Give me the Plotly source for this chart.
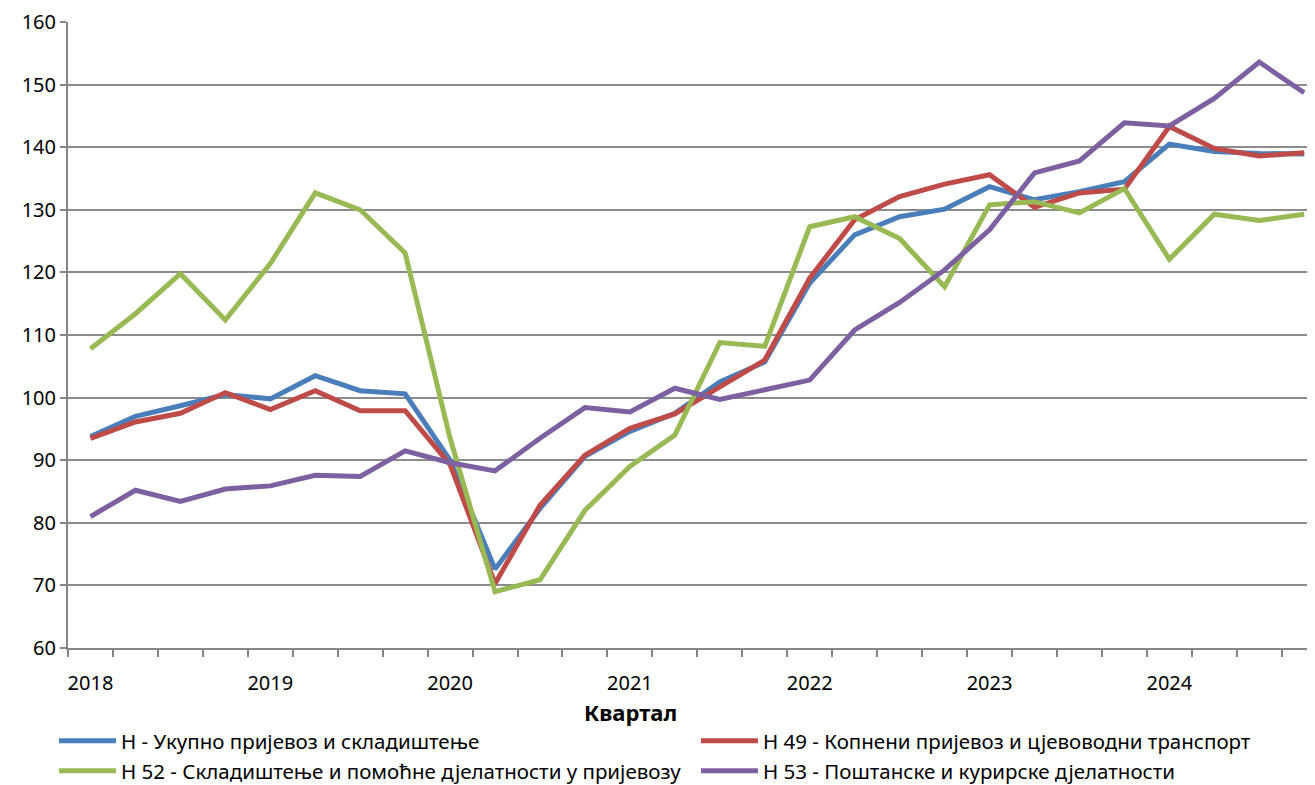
import plotly.graph_objects as go

quarters = [f"{y} Q{q}" for y in range(2018, 2025) for q in range(1, 5)]
year_labels = ["2018", "2019", "2020", "2021", "2022", "2023", "2024"]

h_total = [93.8, 97.0, 98.7, 100.5, 99.8, 103.5, 101.1, 100.6,
           90.0, 72.6, 82.3, 90.6, 94.6, 97.5, 102.5, 105.7,
           118.3, 126.0, 128.9, 130.1, 133.7, 131.6, 132.9, 134.5,
           140.5, 139.3, 139.0, 138.9]
h49 = [93.5, 96.1, 97.5, 100.8, 98.1, 101.1, 97.9, 97.9,
       89.3, 70.3, 82.8, 90.8, 95.1, 97.4, 101.7, 106.0,
       119.1, 128.4, 132.1, 134.1, 135.6, 130.4, 132.7, 133.3,
       143.3, 139.8, 138.6, 139.1]
h52 = [107.8, 113.4, 119.8, 112.4, 121.4, 132.7, 130.0, 123.1,
       93.5, 69.0, 70.9, 82.0, 89.0, 94.0, 108.8, 108.2,
       127.3, 128.9, 125.4, 117.7, 130.8, 131.3, 129.5, 133.4,
       122.1, 129.3, 128.3, 129.3]
h53 = [81.0, 85.2, 83.4, 85.4, 85.9, 87.6, 87.4, 91.5,
       89.6, 88.3, 93.5, 98.4, 97.7, 101.5, 99.7, 101.3,
       102.8, 110.8, 115.2, 120.4, 126.8, 135.9, 137.8, 143.9,
       143.4, 147.8, 153.6, 148.7]

names = ["Н - Укупно пријевоз и складиштење",
         "Н 49 - Копнени пријевоз и цјевоводни транспорт",
         "Н 52 - Складиштење и помоћне дјелатности у пријевозу",
         "Н 53 - Поштанске и курирске дјелатности"]
colors = ["#4A7EBB", "#BE4B48", "#98B954", "#7D60A0"]
series = [h_total, h49, h52, h53]
legends = ["legend", "legend2", "legend3", "legend4"]

FONT = "Noto Sans"
x_idx = list(range(len(quarters)))

fig = go.Figure()
for nm, col, vals, lg in zip(names, colors, series, legends):
    fig.add_trace(go.Scatter(x=x_idx, y=vals, mode="lines", name=nm,
                             line=dict(color=col, width=5), legend=lg,
                             hovertext=quarters))

# page body has an 8px default margin; compensate so the plot area
# lands at x 68..1315, y 22..648 in the 1315x785 window
OFF = 8
W, H = 1315 - OFF, 785 - OFF
L, R, T = 68 - OFF, 0, 22 - OFF
PLOT_BOTTOM = 648
B = H - (PLOT_BOTTOM - OFF)
pw = W - L - R
ph = H - T - B


def leg(xpix, ypix):
    return dict(orientation="h", x=(xpix - 68) / pw, xanchor="left",
                y=(PLOT_BOTTOM - ypix) / ph, yanchor="middle", itemwidth=57,
                font=dict(family=FONT, size=20.5, color="black"),
                bgcolor="rgba(0,0,0,0)", borderwidth=0)


fig.update_layout(
    width=W, height=H,
    margin=dict(l=L, r=R, t=T, b=B, autoexpand=False),
    paper_bgcolor="white", plot_bgcolor="white",
    font=dict(family=FONT, size=20, color="black"),
    showlegend=True,
    legend=leg(54, 741), legend2=leg(696, 741),
    legend3=leg(54, 771), legend4=leg(696, 771),
    xaxis=dict(range=[-0.5, (1315 - 90) / 44.97], showgrid=False, zeroline=False,
               tickvals=[0, 4, 8, 12, 16, 20, 24], ticktext=year_labels,
               ticks="outside", ticklen=16, tickcolor="rgba(0,0,0,0)",
               showline=True, linecolor="#868686", linewidth=2,
               tickfont=dict(family=FONT, size=20),
               minor=dict(tickvals=[i - 0.5 for i in range(29)], ticks="outside",
                          ticklen=7, tickcolor="#868686", tickwidth=2, showgrid=False)),
    yaxis=dict(range=[60, 160], dtick=10, showgrid=True, gridcolor="#8C8C8C",
               gridwidth=2, zeroline=False, showline=True, linecolor="#868686",
               linewidth=2, ticks="outside", ticklen=6, tickcolor="#868686",
               tickwidth=2, tickfont=dict(family=FONT, size=20)),
    annotations=[dict(text="<b>Квартал</b>", xref="paper", yref="paper",
                      x=(630 - 68) / pw, y=(PLOT_BOTTOM - 712) / ph,
                      xanchor="center", yanchor="middle", showarrow=False,
                      font=dict(family=FONT, size=22, color="black"))],
)

fig.write_html("out.html")
